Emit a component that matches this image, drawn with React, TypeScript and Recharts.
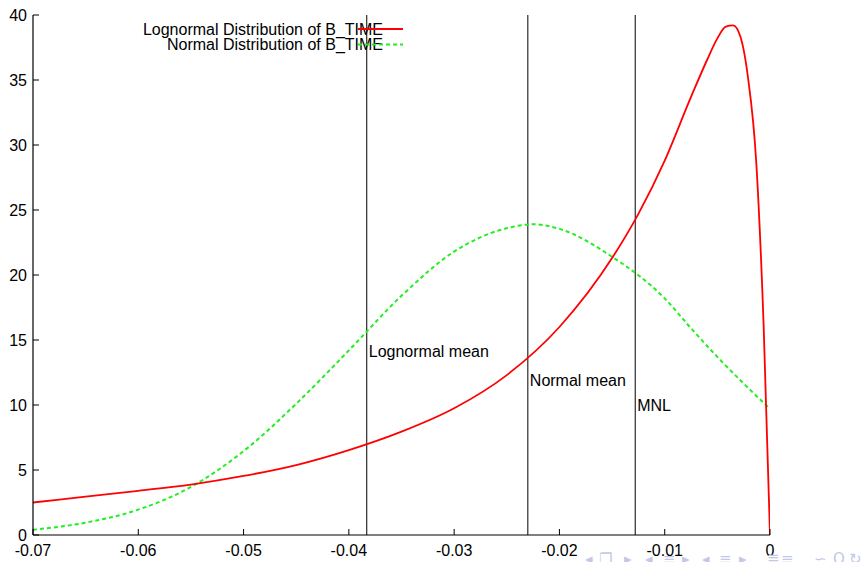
import React from 'react';
import { LineChart, Line, XAxis, YAxis, ReferenceLine, ReferenceDot, Legend } from 'recharts';

// Lognormal density (red, solid)
const lognormalX = [-0.07, -0.065, -0.06, -0.055, -0.05, -0.045, -0.04, -0.035, -0.03, -0.025, -0.02, -0.015, -0.0125, -0.01, -0.0075, -0.006, -0.005, -0.0042, -0.0035, -0.0028, -0.0021, -0.0013, -0.0006, 0];
const lognormalY = [2.5, 2.95, 3.4, 3.88, 4.54, 5.38, 6.53, 7.95, 9.75, 12.3, 16.0, 21.3, 24.7, 28.8, 33.7, 36.5, 38.2, 39.1, 39.2, 38.3, 35.25, 28.6, 16.0, 0];

// Normal density (green, dashed)
const normalX = [-0.07, -0.065, -0.06, -0.055, -0.05, -0.045, -0.04, -0.035, -0.03, -0.025, -0.0225, -0.02, -0.015, -0.01, -0.0075, -0.005, -0.0025, 0];
const normalY = [0.4, 0.95, 1.95, 3.7, 6.45, 10.1, 14.2, 18.4, 21.8, 23.6, 23.9, 23.55, 21.4, 18.2, 15.9, 13.7, 11.65, 9.7];

const xTicks = [-0.07, -0.06, -0.05, -0.04, -0.03, -0.02, -0.01, 0];
const xTickLabels = ['-0.07', '-0.06', '-0.05', '-0.04', '-0.03', '-0.02', '-0.01', '0'];
const yTicks = [0, 5, 10, 15, 20, 25, 30, 35, 40];

const markerXs = [-0.0383, -0.023, -0.0128];
const markerLabels = ['Lognormal mean', 'Normal mean', 'MNL'];
const markerLabelYs = [14.1, 11.9, 10.0];

const seriesNames = ['Lognormal Distribution of B_TIME', 'Normal Distribution of B_TIME'];
const navSymbols = ['◂', '❐', '▸', '◂', '≡', '▸', '◂', '≡', '▸', '≣', '≡', '∽', 'Q', '↻'];
const navLefts = [585, 599, 624, 645, 663, 682, 702, 719, 739, 767, 781, 814, 833, 849];

const lognormalData = lognormalX.map((x, i) => ({ x, v: lognormalY[i] }));
const normalData = normalX.map((x, i) => ({ x, v: normalY[i] }));

const FONT = '"Liberation Sans", Arial, Helvetica, sans-serif';
const RED = '#ff0000';
const GREEN = '#22ee22';

const fmtX = (v: number) => {
  const idx = xTicks.findIndex((t) => Math.abs(t - v) < 1e-9);
  return idx >= 0 ? xTickLabels[idx] : String(v);
};

const LegendContent = (props: any) => {
  const payload = props.payload || [];
  return (
    <svg width={863} height={60} style={{ display: 'block' }}>
      {payload.map((p: any, i: number) => (
        <g key={i}>
          <text x={383} y={34.5 + i * 15.5} textAnchor="end" fontFamily={FONT} fontSize={16} fill="#000">
            {p.value}
          </text>
          <line
            x1={358}
            x2={403}
            y1={29 + i * 15.5}
            y2={29 + i * 15.5}
            stroke={p.color}
            strokeWidth={2}
            strokeDasharray={i === 1 ? '4 3' : undefined}
          />
        </g>
      ))}
    </svg>
  );
};

export default function App() {
  return (
    <div style={{ position: 'absolute', left: 0, top: 0, width: 863, height: 562, background: '#fff', fontFamily: FONT, overflow: 'hidden' }}>
      <LineChart width={863} height={562} margin={{ top: 15, right: 93, bottom: 0, left: 0 }}>
        <XAxis
          dataKey="x"
          type="number"
          domain={[-0.07, 0]}
          ticks={xTicks}
          interval={0}
          allowDataOverflow
          tickFormatter={fmtX}
          height={27}
          tickSize={-6}
          tickMargin={16}
          axisLine={{ stroke: '#000', strokeWidth: 1.2 }}
          tickLine={{ stroke: '#000' }}
          tick={{ fill: '#000', fontSize: 16, fontFamily: FONT }}
        />
        <XAxis
          xAxisId="top"
          orientation="top"
          dataKey="x"
          type="number"
          domain={[-0.07, 0]}
          ticks={xTicks}
          interval={0}
          allowDataOverflow
          tickFormatter={() => ''}
          height={0}
          tickSize={-6}
          tickMargin={0}
          axisLine={{ stroke: '#000', strokeWidth: 1.2 }}
          tickLine={{ stroke: '#000' }}
        />
        <YAxis
          type="number"
          domain={[0, 40]}
          ticks={yTicks}
          interval={0}
          width={33}
          tickSize={-6}
          tickMargin={12}
          axisLine={{ stroke: '#000', strokeWidth: 1.2 }}
          tickLine={{ stroke: '#000' }}
          tick={{ fill: '#000', fontSize: 16, fontFamily: FONT }}
        />
        <YAxis
          yAxisId="right"
          orientation="right"
          type="number"
          domain={[0, 40]}
          ticks={yTicks}
          interval={0}
          width={0}
          tickSize={-6}
          tickMargin={0}
          tickFormatter={() => ''}
          axisLine={{ stroke: '#000', strokeWidth: 1.2 }}
          tickLine={{ stroke: '#000' }}
        />
        {markerXs.map((mx, i) => (
          <ReferenceLine key={'rl' + i} x={mx} stroke="#000" strokeWidth={1} />
        ))}
        {markerXs.map((mx, i) => (
          <ReferenceDot
            key={'rd' + i}
            x={mx}
            y={markerLabelYs[i]}
            r={0}
            fill="none"
            stroke="none"
            label={{ value: markerLabels[i], position: 'right', offset: 2, fill: '#000', fontSize: 16, fontFamily: FONT }}
          />
        ))}
        <Line
          data={normalData}
          type="monotone"
          dataKey="v"
          name={seriesNames[1]}
          stroke={GREEN}
          strokeWidth={2}
          strokeDasharray="4 3"
          dot={false}
          isAnimationActive={false}
        />
        <Line
          data={lognormalData}
          type="monotone"
          dataKey="v"
          name={seriesNames[0]}
          stroke={RED}
          strokeWidth={1.8}
          dot={false}
          isAnimationActive={false}
        />
        <Legend
          layout="horizontal"
          verticalAlign="middle"
          align="center"
          content={LegendContent}
          payload={[
            { value: seriesNames[0], type: 'line', color: RED, id: 'logn' },
            { value: seriesNames[1], type: 'line', color: GREEN, id: 'norm' },
          ]}
          wrapperStyle={{ position: 'absolute', top: 0, left: 0, width: 863, height: 60, pointerEvents: 'none' }}
        />
      </LineChart>
      {navSymbols.map((s, i) => (
        <span
          key={i}
          style={{
            position: 'absolute',
            left: navLefts[i],
            top: 552,
            color: '#c2c8e6',
            fontSize: 15,
            lineHeight: '15px',
            whiteSpace: 'nowrap',
            fontFamily: '"DejaVu Sans", sans-serif',
          }}
        >
          {s}
        </span>
      ))}
    </div>
  );
}
